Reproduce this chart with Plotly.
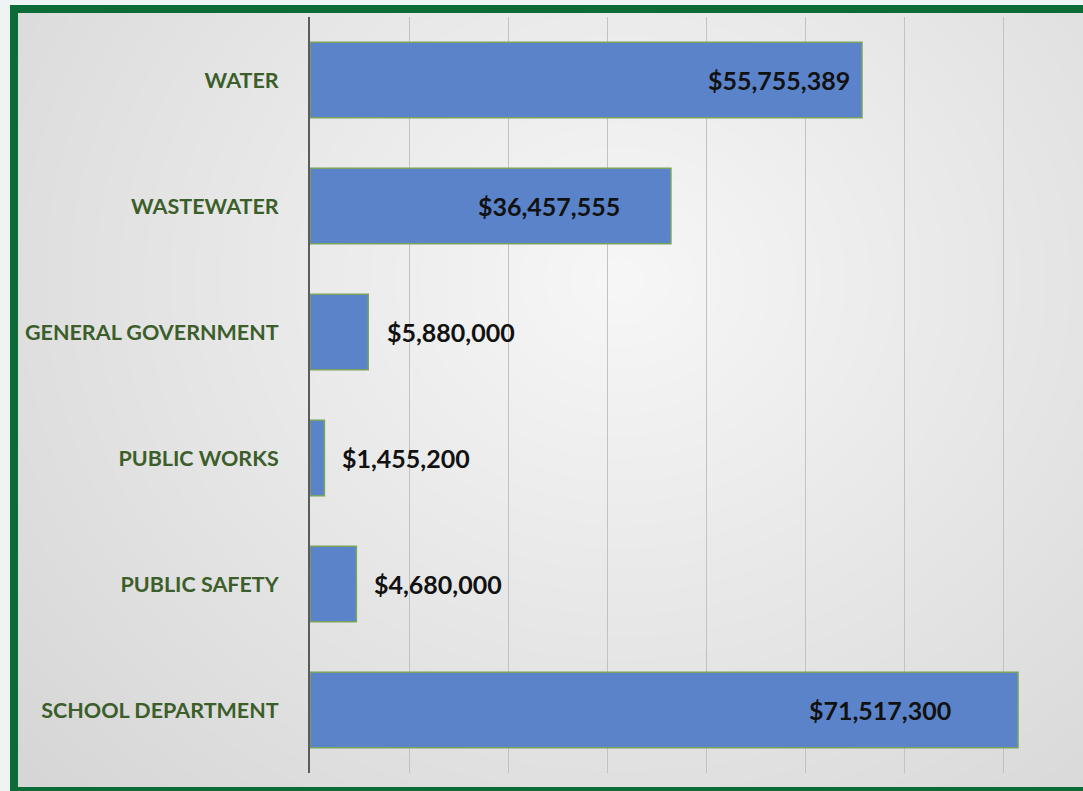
import base64
import struct
import zlib

import numpy as np
import plotly.graph_objects as go

# ---- data -------------------------------------------------------------
categories = [
    "WATER",
    "WASTEWATER",
    "GENERAL GOVERNMENT",
    "PUBLIC WORKS",
    "PUBLIC SAFETY",
    "SCHOOL DEPARTMENT",
]
amounts = [55755389, 36457555, 5880000, 1455200, 4680000, 71517300]

# label placement per bar: pixel shift from the bar end, and which side
label_shift = [-10, -49, 17, 16, 16, -65]
label_anchor = ["right", "right", "left", "left", "left", "right"]

W, H = 1083, 791
GREEN = "#0c6b36"


def gray_png(arr):
    """Encode a 2-D uint8 array as a grayscale PNG."""
    h, w = arr.shape
    raw = b"".join(b"\x00" + arr[i].tobytes() for i in range(h))

    def chunk(tag, data):
        body = tag + data
        return struct.pack(">I", len(data)) + body + struct.pack(">I", zlib.crc32(body) & 0xFFFFFFFF)

    return (
        b"\x89PNG\r\n\x1a\n"
        + chunk(b"IHDR", struct.pack(">IIBBBBB", w, h, 8, 0, 0, 0, 0))
        + chunk(b"IDAT", zlib.compress(raw, 9))
        + chunk(b"IEND", b"")
    )


# soft radial gray background inside the frame
bx0, by0, bx1, by1 = 18, 13, W, 787
gw, gh = bx1 - bx0, by1 - by0
yy, xx = np.mgrid[0:gh, 0:gw].astype(float)
cx, cy = 620 - bx0, 280 - by0
r = np.sqrt(((xx - cx) / 650.0) ** 2 + ((yy - cy) / 580.0) ** 2)
shade = np.clip(247 - 26 * r, 200, 250).astype(np.uint8)
bg_uri = "data:image/png;base64," + base64.b64encode(gray_png(shade)).decode()

# axis geometry
x_left, y_top, y_bottom = 310, 17, 773
px_per_10m = 99.0
x_max = (W - x_left) * 10e6 / px_per_10m

fig = go.Figure()
fig.add_trace(
    go.Bar(
        x=amounts,
        y=categories,
        orientation="h",
        marker=dict(color="#5b83c9", line=dict(color="#79a35f", width=1.5)),
        hoverinfo="skip",
    )
)

for cat, val, shift, anchor in zip(categories, amounts, label_shift, label_anchor):
    fig.add_annotation(
        x=val,
        y=cat,
        xref="x",
        yref="y",
        text=f"${val:,}",
        showarrow=False,
        xanchor=anchor,
        yanchor="middle",
        xshift=shift,
        font=dict(family="Lato", size=25, color="#111111", weight="bold"),
    )

fig.update_layout(
    width=W,
    height=H,
    margin=dict(l=0, r=0, t=0, b=0),
    paper_bgcolor="#eef3f3",
    plot_bgcolor="rgba(0,0,0,0)",
    showlegend=False,
    bargap=0.4,
    images=[
        dict(
            source=bg_uri,
            xref="paper",
            yref="paper",
            x=bx0 / W,
            y=1 - by0 / H,
            sizex=gw / W,
            sizey=gh / H,
            xanchor="left",
            yanchor="top",
            sizing="stretch",
            layer="below",
        )
    ],
    shapes=[
        dict(
            type="rect",
            xref="paper",
            yref="paper",
            x0=14 / W,
            x1=1.05,
            y0=0,
            y1=1 - 9 / H,
            line=dict(color=GREEN, width=8),
            fillcolor="rgba(0,0,0,0)",
            layer="above",
        )
    ],
    xaxis=dict(
        domain=[x_left / W, 1],
        range=[0, x_max],
        dtick=10e6,
        tick0=0,
        showgrid=True,
        gridcolor="#c2c2c2",
        gridwidth=1,
        zeroline=False,
        showticklabels=False,
        showline=False,
        fixedrange=True,
    ),
    yaxis=dict(
        domain=[(H - y_bottom) / H, (H - y_top) / H],
        categoryorder="array",
        categoryarray=categories,
        range=[len(categories) - 0.5, -0.5],
        showgrid=False,
        zeroline=False,
        showline=True,
        linecolor="#5b5b5b",
        linewidth=2,
        ticks="outside",
        ticklen=25,
        tickcolor="rgba(0,0,0,0)",
        tickfont=dict(family="Lato", size=21.5, color="#3b5e2a", weight="bold"),
        automargin=False,
        fixedrange=True,
    ),
)

fig.write_html("out.html")
